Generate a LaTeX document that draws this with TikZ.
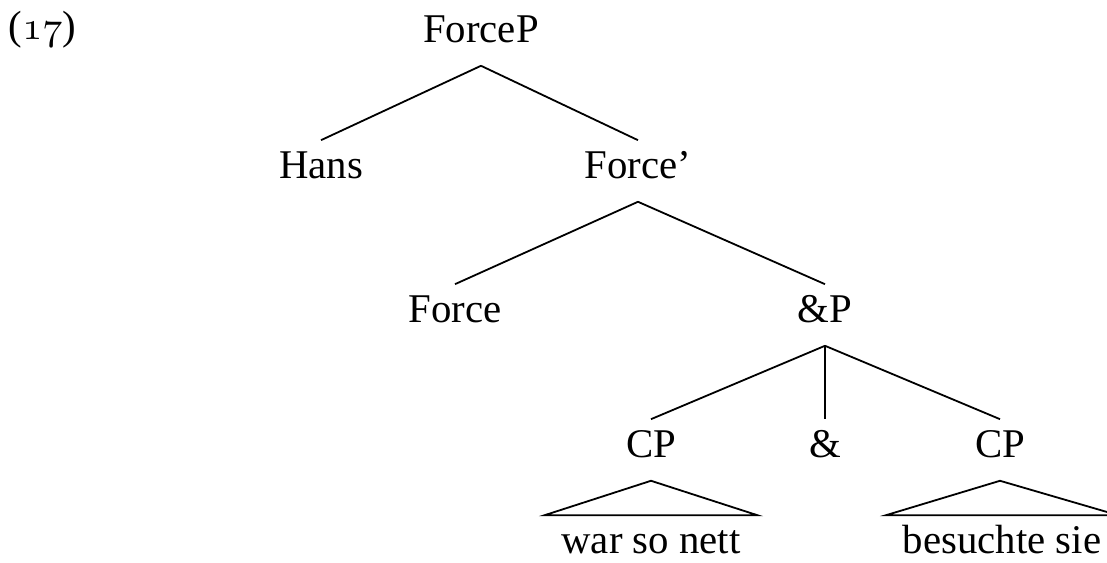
\documentclass[tikz,border=0pt]{standalone}
\usepackage{fontspec}
\setmainfont{Liberation Serif}
\begin{document}
\begin{tikzpicture}[x=0.25pt,y=-0.25pt,
    every node/.style={font=\fontsize{10.2}{12}\selectfont},
    cat/.style={anchor=base,inner sep=2.5pt,text height=7pt,text depth=3pt},
    term/.style={cat,inner xsep=4pt},
    edge/.style={line width=0.45pt}]
  \useasboundingbox (0,0) rectangle (1107,563);
  \node[anchor=base west,inner sep=0pt] (ex) at (8,40) {({\usefont{OML}{cmm}{m}{it}17})};
  \node[cat] (forcep) at (481,43) {ForceP};
  \node[cat] (hans) at (321,179) {Hans};
  \node[cat] (forcebar) at (638,179) {Force’};
  \node[cat] (force) at (455,323) {Force};
  \node[cat] (andp) at (825,323) {\&P};
  \node[cat] (cpa) at (651,458) {CP};
  \node[cat] (and) at (825,458) {\&};
  \node[cat] (cpb) at (1000,458) {CP};
  \node[term] (wsn) at (651,554) {war so nett};
  \node[term] (bs) at (1002,554) {besuchte sie};
  \draw[edge] (forcep.south) -- (hans.north);
  \draw[edge] (forcep.south) -- (forcebar.north);
  \draw[edge] (forcebar.south) -- (force.north);
  \draw[edge] (forcebar.south) -- (andp.north);
  \draw[edge] (andp.south) -- (cpa.north);
  \draw[edge] (andp.south) -- (and.north);
  \draw[edge] (andp.south) -- (cpb.north);
  \draw[edge] (cpa.south) -- (wsn.north west) -- (wsn.north east) -- cycle;
  \draw[edge] (cpb.south) -- (bs.north west) -- (bs.north east) -- cycle;
\end{tikzpicture}
\end{document}
